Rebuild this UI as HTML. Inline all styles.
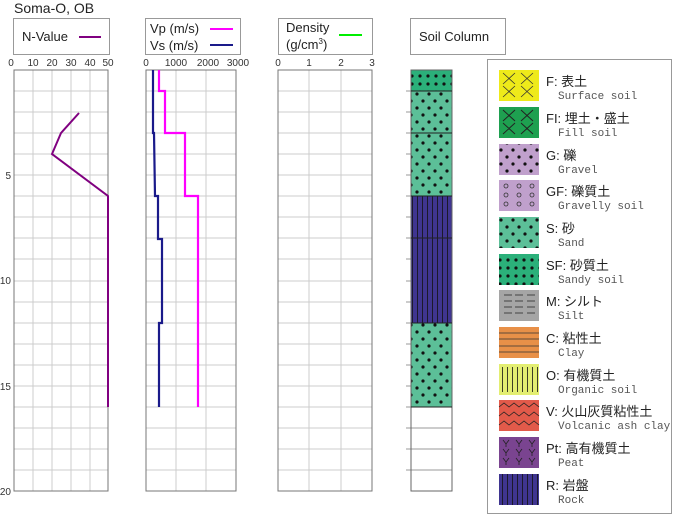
<!DOCTYPE html>
<html><head><meta charset="utf-8"><style>
body{margin:0;background:#fff}
svg{display:block}
text{font-family:"Liberation Sans","Noto Sans CJK JP",sans-serif}
.m text{font-family:"Liberation Mono","Noto Sans CJK JP",monospace;fill:#555;font-size:11px}
.l text{font-size:13px;fill:#222}
.t text{font-size:10px;fill:#333}
</style></head><body>
<svg width="675" height="514" viewBox="0 0 675 514" xmlns="http://www.w3.org/2000/svg">
<defs>
<pattern id="dots" width="12" height="14" patternUnits="userSpaceOnUse"><circle cx="3" cy="3" r="1.6" fill="#111"/><circle cx="9" cy="10" r="1.6" fill="#111"/></pattern>
<pattern id="dots2" width="8" height="8" patternUnits="userSpaceOnUse"><circle cx="4" cy="4" r="1.6" fill="#111"/></pattern>
<pattern id="vl" width="5" height="10" patternUnits="userSpaceOnUse"><line x1="2.5" y1="0" x2="2.5" y2="10" stroke="#111" stroke-width="0.8"/></pattern>
</defs>
<text x="14" y="13" font-size="14" fill="#222">Soma-O, OB</text>
<g fill="none" stroke="#999"><rect x="13.5" y="18.5" width="96" height="36"/><rect x="145.5" y="18.5" width="95" height="36"/><rect x="278.5" y="18.5" width="94" height="36"/><rect x="410.5" y="18.5" width="95" height="36"/></g>
<text x="22" y="41" font-size="13" fill="#222">N-Value</text><line x1="79" y1="37" x2="101" y2="37" stroke="#800080" stroke-width="2"/>
<text x="150" y="33" font-size="13" fill="#222">Vp (m/s)</text><line x1="210" y1="29" x2="233" y2="29" stroke="#ff00ff" stroke-width="2"/>
<text x="150" y="50" font-size="13" fill="#222">Vs (m/s)</text><line x1="210" y1="45" x2="233" y2="45" stroke="#1a1a8a" stroke-width="2"/>
<text x="286" y="32" font-size="13" fill="#222">Density</text><text x="286" y="49" font-size="13" fill="#222">(g/cm<tspan font-size="8" dy="-5">3</tspan><tspan dy="5">)</tspan></text><line x1="339" y1="35" x2="362" y2="35" stroke="#00ee00" stroke-width="2"/>
<text x="419" y="41" font-size="13" fill="#222">Soil Column</text>
<g stroke="#ccc" stroke-width="1">
<path d="M14 91H108M14 112H108M14 133H108M14 154H108M14 175H108M14 196H108M14 217H108M14 238H108M14 259H108M14 281H108M14 302H108M14 323H108M14 344H108M14 365H108M14 386H108M14 407H108M14 428H108M14 449H108M14 470H108"/>
<path d="M146 91H236M146 112H236M146 133H236M146 154H236M146 175H236M146 196H236M146 217H236M146 238H236M146 259H236M146 281H236M146 302H236M146 323H236M146 344H236M146 365H236M146 386H236M146 407H236M146 428H236M146 449H236M146 470H236"/>
<path d="M278 91H372M278 112H372M278 133H372M278 154H372M278 175H372M278 196H372M278 217H372M278 238H372M278 259H372M278 281H372M278 302H372M278 323H372M278 344H372M278 365H372M278 386H372M278 407H372M278 428H372M278 449H372M278 470H372"/>
<path d="M33 70V491M52 70V491M71 70V491M90 70V491M176 70V491M206 70V491M309 70V491M341 70V491"/>
</g>
<g fill="none" stroke="#777"><rect x="14" y="70" width="94" height="421"/><rect x="146" y="70" width="90" height="421"/><rect x="278" y="70" width="94" height="421"/></g>
<g class="t" text-anchor="middle"><text x="11" y="66">0</text><text x="33" y="66">10</text><text x="52" y="66">20</text><text x="71" y="66">30</text><text x="90" y="66">40</text><text x="108" y="66">50</text>
<text x="146" y="66">0</text><text x="176" y="66">1000</text><text x="208" y="66">2000</text><text x="238" y="66">3000</text>
<text x="278" y="66">0</text><text x="309" y="66">1</text><text x="341" y="66">2</text><text x="372" y="66">3</text></g>
<g class="t" text-anchor="end"><text x="11" y="179">5</text><text x="11" y="284">10</text><text x="11" y="390">15</text><text x="11" y="495">20</text></g>
<polyline points="79,113 61,133 52,154 108,196 108,407" fill="none" stroke="#800080" stroke-width="2"/>
<polyline points="159,70 159,91 165,91 165,133 185,133 185,196 198,196 198,407" fill="none" stroke="#ff00ff" stroke-width="2.2"/>
<polyline points="153,70 153,133 154,133 155,196 158,196 158,239 162,239 162,323 159,323 159,407" fill="none" stroke="#1a1a8a" stroke-width="2.2"/>
<g stroke="#999"><path d="M406 91H411M406 112H411M406 133H411M406 154H411M406 175H411M406 196H411M406 217H411M406 238H411M406 259H411M406 281H411M406 302H411M406 323H411M406 344H411M406 365H411M406 386H411M406 407H411M406 428H411M406 449H411M406 470H411"/><path d="M411 428H452M411 449H452M411 470H452"/></g>
<rect x="411" y="70" width="41" height="21" fill="#2bb07a"/><rect x="411" y="70" width="41" height="21" fill="url(#dots2)"/>
<rect x="411" y="91" width="41" height="105" fill="#5cbf98"/><rect x="411" y="91" width="41" height="105" fill="url(#dots)"/>
<rect x="411" y="196" width="41" height="127" fill="#3f3590"/><rect x="411" y="196" width="41" height="127" fill="url(#vl)"/>
<rect x="411" y="323" width="41" height="84" fill="#5cbf98"/><rect x="411" y="323" width="41" height="84" fill="url(#dots)"/>
<g fill="none" stroke="#222"><rect x="411" y="70" width="41" height="421" stroke="#666"/><path d="M411 91H452M411 133H452M411 196H452M411 238H452M411 323H452M411 407H452"/></g>
<rect x="487.5" y="59.5" width="184" height="454" fill="#fff" stroke="#999"/>
<rect x="499" y="70" width="40" height="31" fill="#eeea1a"/><path d="M503 73l12 11M515 73l-12 11M521 73l12 11M533 73l-12 11M503 86l12 11M515 86l-12 11M521 86l12 11M533 86l-12 11" stroke="#333" stroke-width="0.8"/>
<rect x="499" y="107" width="40" height="31" fill="#1ea050"/><path d="M503 110l12 11M515 110l-12 11M521 110l12 11M533 110l-12 11M503 123l12 11M515 123l-12 11M521 123l12 11M533 123l-12 11" stroke="#222" stroke-width="1"/>
<rect x="499" y="144" width="40" height="31" fill="#c0a0cc"/><rect x="499" y="144" width="40" height="31" fill="url(#dots)"/>
<rect x="499" y="180" width="40" height="31" fill="#c0a0cc"/><g fill="none" stroke="#333" stroke-width="0.8"><circle cx="506" cy="186" r="2"/><circle cx="519" cy="186" r="2"/><circle cx="532" cy="186" r="2"/><circle cx="506" cy="195" r="2"/><circle cx="519" cy="195" r="2"/><circle cx="532" cy="195" r="2"/><circle cx="506" cy="204" r="2"/><circle cx="519" cy="204" r="2"/><circle cx="532" cy="204" r="2"/></g>
<rect x="499" y="217" width="40" height="31" fill="#5cbf98"/><rect x="499" y="217" width="40" height="31" fill="url(#dots)"/>
<rect x="499" y="254" width="40" height="31" fill="#2bb07a"/><rect x="499" y="254" width="40" height="31" fill="url(#dots2)"/>
<rect x="499" y="290" width="40" height="31" fill="#a5a5a5"/><path d="M504 295h8M515 295h8M527 295h8M504 301h8M515 301h8M527 301h8M504 307h8M515 307h8M527 307h8M504 313h8M515 313h8M527 313h8" stroke="#444"/>
<rect x="499" y="327" width="40" height="31" fill="#e89048"/><path d="M499 333h40M499 339h40M499 346h40M499 352h40" stroke="#333" stroke-width="0.8"/>
<rect x="499" y="364" width="40" height="31" fill="#e3ee72"/><rect x="499" y="367" width="40" height="25" fill="url(#vl)"/>
<rect x="499" y="400" width="40" height="31" fill="#e25a4a"/><path d="M499 407l5 -4 5 4 5 -4 5 4 5 -4 5 4 5 -4 5 4M499 416l5 -4 5 4 5 -4 5 4 5 -4 5 4 5 -4 5 4M499 425l5 -4 5 4 5 -4 5 4 5 -4 5 4 5 -4 5 4" fill="none" stroke="#222" stroke-width="0.8"/>
<rect x="499" y="437" width="40" height="31" fill="#7a4490"/><g stroke="#222" stroke-width="0.8" fill="none"><path d="M503 440l3 4 3 -4M506 444v3M516 440l3 4 3 -4M519 444v3M529 440l3 4 3 -4M532 444v3M503 449l3 4 3 -4M506 453v3M516 449l3 4 3 -4M519 453v3M529 449l3 4 3 -4M532 453v3M503 458l3 4 3 -4M506 462v3M516 458l3 4 3 -4M519 462v3M529 458l3 4 3 -4M532 462v3"/></g>
<rect x="499" y="474" width="40" height="31" fill="#3f3590"/><rect x="499" y="474" width="40" height="31" fill="url(#vl)"/>
<g class="l">
<text x="546" y="86">F: 表土</text><text x="546" y="123">FI: 埋土・盛土</text><text x="546" y="160">G: 礫</text><text x="546" y="196">GF: 礫質土</text><text x="546" y="233">S: 砂</text><text x="546" y="270">SF: 砂質土</text><text x="546" y="306">M: シルト</text><text x="546" y="343">C: 粘性土</text><text x="546" y="380">O: 有機質土</text><text x="546" y="416">V: 火山灰質粘性土</text><text x="546" y="453">Pt: 高有機質土</text><text x="546" y="490">R: 岩盤</text>
</g>
<g class="m">
<text x="558" y="99">Surface soil</text><text x="558" y="136">Fill soil</text><text x="558" y="173">Gravel</text><text x="558" y="209">Gravelly soil</text><text x="558" y="246">Sand</text><text x="558" y="283">Sandy soil</text><text x="558" y="319">Silt</text><text x="558" y="356">Clay</text><text x="558" y="393">Organic soil</text><text x="558" y="429">Volcanic ash clay</text><text x="558" y="466">Peat</text><text x="558" y="503">Rock</text>
</g>
</svg>
</body></html>
